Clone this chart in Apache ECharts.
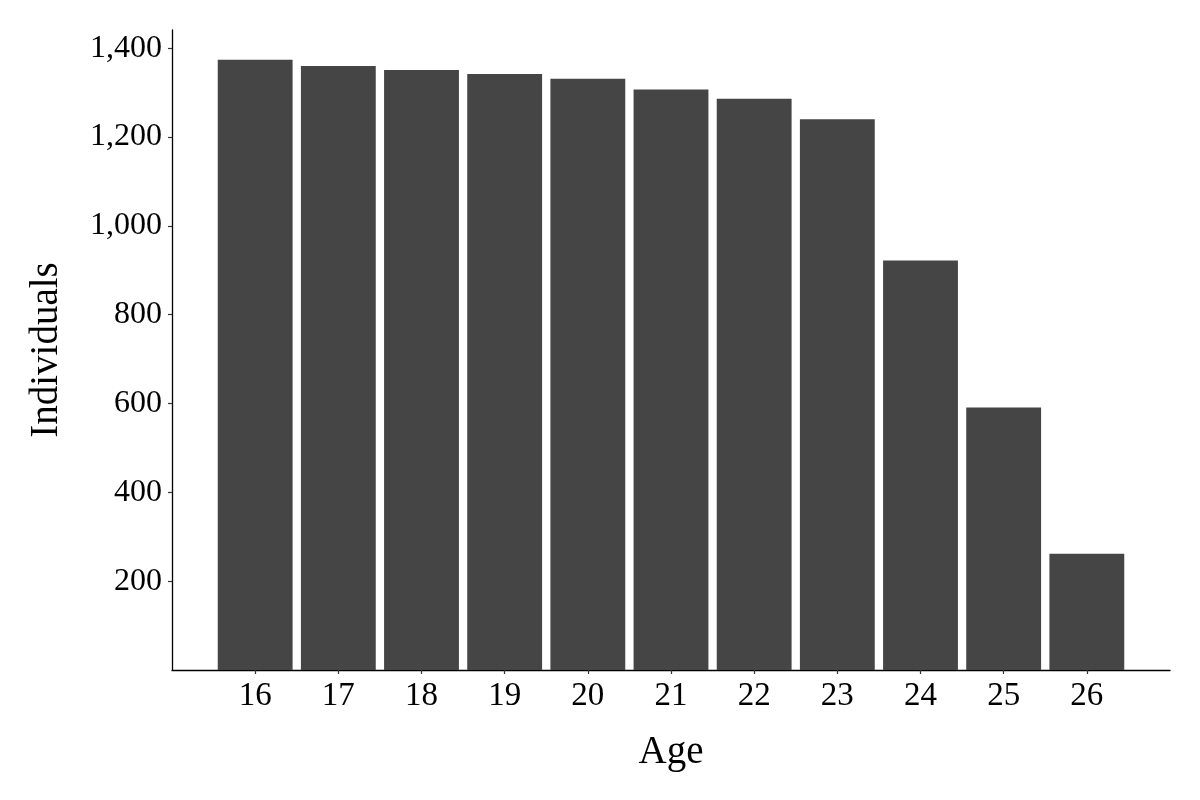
<!DOCTYPE html>
<html>
<head>
<meta charset="utf-8">
<script src="https://cdn.jsdelivr.net/npm/echarts@6/dist/echarts.min.js"></script>
<style>html,body{margin:0;padding:0;background:#fff;}#chart{width:1200px;height:800px;}</style>
</head>
<body>
<div id="chart"></div>
<script>
const ages = [16, 17, 18, 19, 20, 21, 22, 23, 24, 25, 26];
const individuals = [1374, 1360, 1351, 1342, 1331, 1307, 1286, 1240, 922, 591, 262];
const yTicks = [200, 400, 600, 800, 1000, 1200, 1400];

const FONT = "'Liberation Serif', 'DejaVu Serif', serif";
const chart = echarts.init(document.getElementById('chart'), null, {renderer: 'canvas'});
chart.setOption({
  animation: false,
  backgroundColor: '#ffffff',
  grid: {left: 172, right: 30, top: 30, bottom: 130, containLabel: false},
  xAxis: {
    type: 'value', min: 15, max: 27,
    name: 'Age', nameLocation: 'middle', nameGap: 63,
    nameTextStyle: {fontFamily: FONT, fontSize: 39, color: '#000'},
    axisLine: {show: true, onZero: false, lineStyle: {color: '#000', width: 1.3}},
    axisTick: {show: true, length: 4, customValues: ages, lineStyle: {color: '#333', width: 1.2}},
    axisLabel: {customValues: ages, fontFamily: FONT, fontSize: 33, color: '#000', margin: 10},
    splitLine: {show: false}
  },
  yAxis: {
    type: 'value', min: 0, max: 1441,
    name: 'Individuals', nameLocation: 'middle', nameGap: 106, nameRotate: 90,
    nameTextStyle: {fontFamily: FONT, fontSize: 39, color: '#000'},
    axisLine: {show: true, lineStyle: {color: '#000', width: 1.3}},
    axisTick: {show: true, length: 4, customValues: yTicks, lineStyle: {color: '#333', width: 1.2}},
    axisLabel: {customValues: yTicks, fontFamily: FONT, fontSize: 32, color: '#000', margin: 10,
      formatter: v => v.toLocaleString('en-US')},
    splitLine: {show: false}
  },
  series: [{
    type: 'bar',
    data: ages.map((a, i) => [a, individuals[i]]),
    barWidth: '90%',
    itemStyle: {color: '#454545'}
  }]
});
</script>
</body>
</html>
